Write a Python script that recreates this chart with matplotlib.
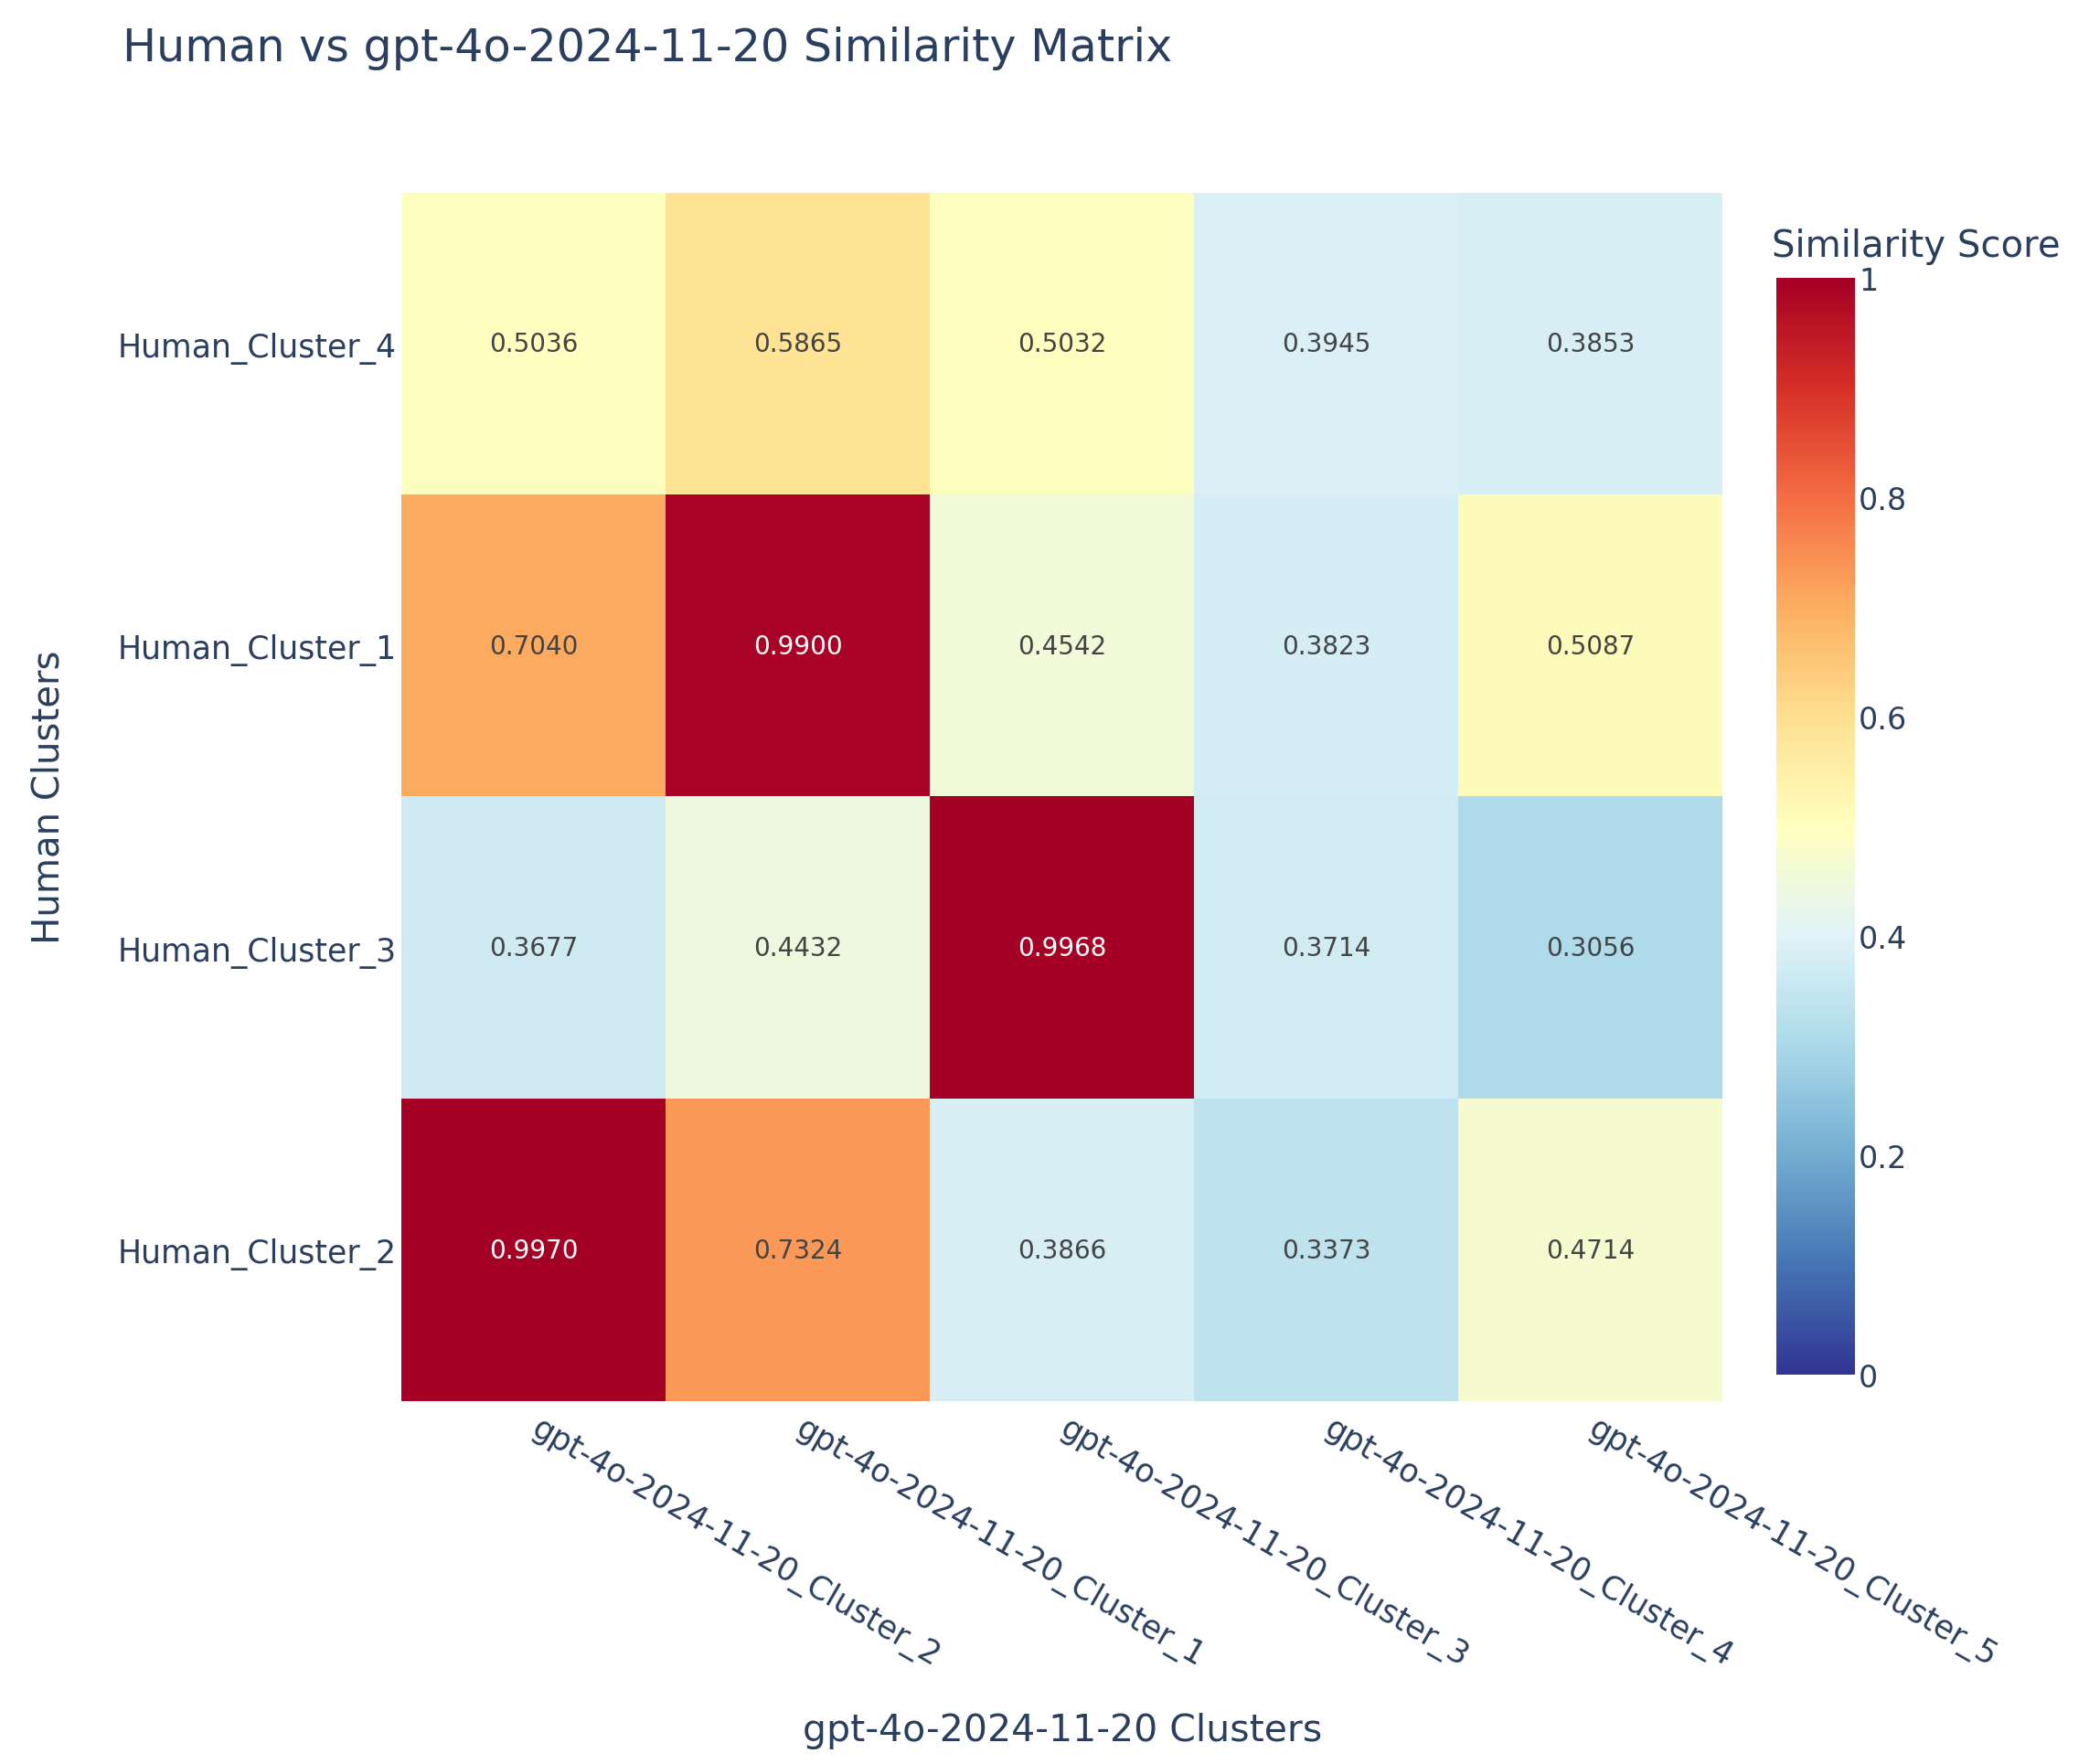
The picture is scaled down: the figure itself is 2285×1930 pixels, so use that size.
import matplotlib
matplotlib.use('Agg')
import matplotlib.pyplot as plt
import numpy as np

plt.rcParams['font.family'] = ['DejaVu Sans']

# columns (x) and rows (y, listed top to bottom)
model_clusters = ['gpt-4o-2024-11-20_Cluster_2', 'gpt-4o-2024-11-20_Cluster_1',
                  'gpt-4o-2024-11-20_Cluster_3', 'gpt-4o-2024-11-20_Cluster_4',
                  'gpt-4o-2024-11-20_Cluster_5']
human_clusters = ['Human_Cluster_4', 'Human_Cluster_1', 'Human_Cluster_3', 'Human_Cluster_2']

row_hc4 = [0.5036, 0.5865, 0.5032, 0.3945, 0.3853]
row_hc1 = [0.7040, 0.9900, 0.4542, 0.3823, 0.5087]
row_hc3 = [0.3677, 0.4432, 0.9968, 0.3714, 0.3056]
row_hc2 = [0.9970, 0.7324, 0.3866, 0.3373, 0.4714]

sim = np.array([row_hc4, row_hc1, row_hc3, row_hc2])

W, H = 2285, 1931
fig = plt.figure(figsize=(W / 100, H / 100), dpi=100)
txt = '#2a3f5f'

ax = fig.add_axes([439 / W, 1 - 1534 / H, (1884 - 439) / W, (1534 - 212) / H])
im = ax.imshow(sim, cmap='RdYlBu_r', vmin=0, vmax=1, aspect='auto', interpolation='nearest')

for i in range(sim.shape[0]):
    for j in range(sim.shape[1]):
        v = sim[i, j]
        ax.text(j, i, f'{v:.4f}', ha='center', va='center', fontsize=20,
                color='white' if v > 0.85 else '#444444')

ax.set_xticks(range(len(model_clusters)))
ax.set_xticklabels(model_clusters, rotation=-30, ha='left', va='center',
                   rotation_mode='anchor', fontsize=25, color=txt)
ax.set_yticks(range(len(human_clusters)))
ax.set_yticklabels(human_clusters, fontsize=25, color=txt)
ax.tick_params(axis='both', length=0)
ax.tick_params(axis='x', pad=19)
ax.tick_params(axis='y', pad=4)
for s in ax.spines.values():
    s.set_visible(False)

cax = fig.add_axes([1943 / W, 1 - 1505 / H, 86 / W, 1200 / H])
cb = fig.colorbar(im, cax=cax)
cb.outline.set_visible(False)
cb.set_ticks([0, 0.2, 0.4, 0.6, 0.8, 1])
cb.set_ticklabels(['0', '0.2', '0.4', '0.6', '0.8', '1'])
cax.tick_params(length=0, labelsize=24, labelcolor=txt, pad=3)

fig.text(1938 / W, 1 - 270 / H, 'Similarity Score', fontsize=29, color=txt,
         ha='left', va='center')
fig.text(134 / W, 1 - 53 / H, 'Human vs gpt-4o-2024-11-20 Similarity Matrix',
         fontsize=35.5, color=txt, ha='left', va='center')
fig.text(1162 / W, 1 - 1894 / H, 'gpt-4o-2024-11-20 Clusters', fontsize=29.5,
         color=txt, ha='center', va='center')
fig.text(54 / W, 1 - 872 / H, 'Human Clusters', fontsize=29, color=txt,
         ha='center', va='center', rotation=90)

fig.savefig('out.png', dpi=100)
